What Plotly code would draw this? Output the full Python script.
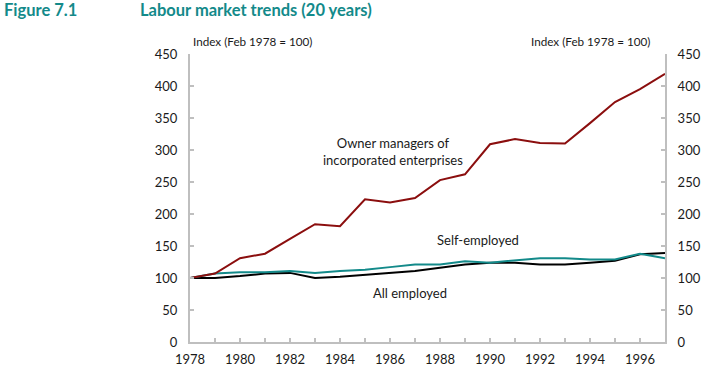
import plotly.graph_objects as go

years = list(range(1978, 1998))
owner_managers = [100, 107, 131, 138, 161, 184, 181, 223, 218, 225, 253, 262, 309, 317, 311, 310, 342, 375, 395, 419]
self_employed = [100, 107, 109, 109, 111, 108, 111, 113, 117, 121, 121, 126, 124, 127, 131, 131, 129, 129, 138, 131]
all_employed = [100, 100, 103, 107, 108, 100, 102, 105, 109, 111, 116, 121, 124, 124, 121, 121, 124, 127, 137, 139]
y_ticks = [0, 50, 100, 150, 200, 250, 300, 350, 400, 450]

FONT = "Lato"
TEAL = "#138A8A"
RED = "#8B0E0E"
AX = "#BFBFBF"

fig = go.Figure()
fig.add_trace(go.Scatter(x=years, y=all_employed, mode="lines", line=dict(color="#000000", width=2), name="All employed"))
fig.add_trace(go.Scatter(x=years, y=self_employed, mode="lines", line=dict(color=TEAL, width=2), name="Self-employed"))
fig.add_trace(go.Scatter(x=years, y=owner_managers, mode="lines", line=dict(color=RED, width=2), name="Owner managers"))
# invisible trace to activate the right-hand axis
fig.add_trace(go.Scatter(x=years, y=owner_managers, mode="lines", line=dict(width=0), opacity=0,
                         yaxis="y2", hoverinfo="skip", showlegend=False))

xtext = [str(y) if (y - 1978) % 2 == 0 else "" for y in years]

axis_common = dict(showgrid=False, zeroline=False, showline=True, linecolor=AX, linewidth=2,
                   tickcolor=AX, tickwidth=1.5, ticklen=4, tickfont=dict(size=13), automargin=False)

fig.update_layout(
    width=705, height=371,
    margin=dict(l=190, r=40, t=54, b=29, autoexpand=False),
    paper_bgcolor="white", plot_bgcolor="white",
    showlegend=False,
    font=dict(family=FONT, size=13, color="#1a1a1a"),
    xaxis=dict(range=[1978, 1997], tickvals=years, ticktext=xtext, ticks="inside",
               ticklabelstandoff=4, **axis_common),
    yaxis=dict(range=[0, 450], tickvals=y_ticks, ticks="inside", ticklabelstandoff=8, **axis_common),
    yaxis2=dict(range=[0, 450], tickvals=y_ticks, overlaying="y", side="right", anchor="x",
                ticks="inside", ticklabelstandoff=8, **axis_common),
)

ann = [
    dict(text="<b>Figure 7.1</b>", x=2, y=10, xanchor="left", font=dict(size=16.5, color=TEAL)),
    dict(text="<b>Labour market trends (20 years)</b>", x=138, y=10, xanchor="left", font=dict(size=16.5, color=TEAL)),
    dict(text="Index (Feb 1978 = 100)", x=191, y=41, xanchor="left", font=dict(size=11.7)),
    dict(text="Index (Feb 1978 = 100)", x=652, y=41, xanchor="right", font=dict(size=11.7)),
]
for a in ann:
    fig.add_annotation(xref="paper", yref="paper", showarrow=False, yanchor="middle",
                       x=(a["x"] - 190) / 475, y=1 - (a["y"] - 54) / 288,
                       xanchor=a["xanchor"], text=a["text"], font=dict(family=FONT, **a["font"]))

fig.add_annotation(x=1986.1, y=298, text="Owner managers of<br>incorporated enterprises", showarrow=False,
                   font=dict(family=FONT, size=13), align="center")
fig.add_annotation(x=1989.5, y=160, text="Self-employed", showarrow=False, font=dict(family=FONT, size=13))
fig.add_annotation(x=1986.8, y=76, text="All employed", showarrow=False, font=dict(family=FONT, size=13))

fig.write_html("out.html", config={"displayModeBar": False},
               post_script="document.body.style.margin='0px';document.body.style.overflow='hidden';")
